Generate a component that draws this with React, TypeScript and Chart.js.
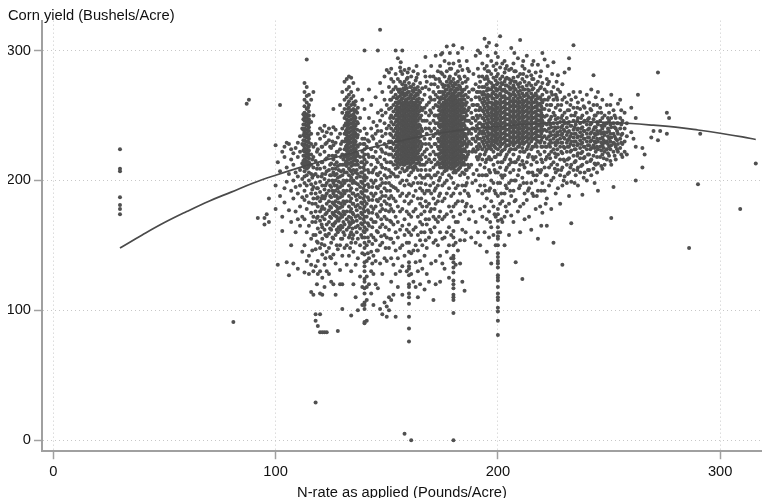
import React, { useEffect, useRef } from "react";
import { Chart, registerables } from "chart.js";

Chart.register(...registerables);

type Column = [number, number[]];

const xTicks = [0, 100, 200, 300];
const yTicks = [0, 100, 200, 300];
const yTitle = "Corn yield (Bushels/Acre)";
const xTitle = "N-rate as applied (Pounds/Acre)";

const fitRates = [30, 40, 50, 60, 70, 80, 90, 100, 110, 120, 130, 140, 150, 160, 170, 180, 190, 200, 210, 220, 230, 240, 250, 260, 270, 280, 290, 300, 310, 316];
const fitYields = [148, 158, 167.5, 176, 184, 191, 198, 204, 209.5, 214.5, 219, 224, 228, 232, 235.5, 238, 240, 241.5, 243, 244, 244.8, 245, 244.6, 243.8, 242.5, 241, 238.8, 236.3, 233.5, 231.5];

const farLeft: Column[] = [
  [30, [224, 209, 207, 187, 181, 178, 174]], [81, [91]], [87, [259]], [88, [262]], [92, [171]], [95, [171, 166]], [96, [174]], [97, [186, 168]],
  [100, [227, 196, 178]], [101, [214, 135]], [102, [258, 207, 188]], [103, [222, 172, 161]], [104, [226, 218, 194, 183]], [105, [229, 210, 199, 137]],
  [106, [228, 205, 177, 127]], [107, [224, 216, 192, 168, 150]], [108, [221, 212, 200, 186, 136]], [109, [225, 206, 195, 176, 160]],
  [110, [229, 218, 203, 190, 170, 132]], [111, [234, 222, 208, 196, 180, 165]], [112, [240, 228, 213, 201, 187, 172, 145]],
];

const blobA: Column[] = [
  [113, [275, 268, 262, 257, 252, 249, 246, 243, 240, 237, 234, 231, 228, 225, 222, 219, 216, 213, 210, 207, 203, 198, 192, 185, 170, 150, 129]],
  [114, [293, 272, 265, 260, 255, 251, 248, 245, 242, 239, 236, 233, 230, 227, 224, 221, 218, 215, 212, 209, 204, 196, 188, 178, 160, 138]],
  [115, [266, 258, 253, 250, 247, 244, 241, 238, 235, 232, 229, 226, 223, 220, 217, 214, 211, 206, 200, 183, 165, 142, 128]],
  [116, [262, 245, 236, 228, 220, 212, 205, 197, 190, 175, 155, 135, 114]],
  [117, [268, 250, 226, 218, 210, 204, 195, 186, 172, 158, 130, 112]],
  [112.5, [251, 247, 243, 239, 235, 231, 227, 223, 219, 215, 211]],
  [114.6, [256, 250, 246, 242, 238, 234, 230, 226, 222, 218, 214, 210]],
];

const betweenAB: Column[] = [
  [118, [228, 215, 205, 198, 190, 182, 176, 168, 158, 147, 134, 97, 92, 29]],
  [119, [236, 224, 212, 203, 194, 187, 180, 172, 163, 152, 138, 128, 88]],
  [120, [240, 232, 220, 209, 199, 191, 184, 176, 169, 160, 148, 130, 113, 97, 83]],
  [121, [238, 226, 214, 205, 196, 188, 180, 172, 164, 155, 143, 125, 112, 83]],
  [122, [242, 234, 222, 210, 201, 193, 186, 178, 170, 162, 150, 135, 118, 83]],
  [123, [237, 229, 217, 207, 198, 190, 182, 175, 166, 157, 145, 130, 83]],
  [124, [240, 231, 219, 208, 200, 192, 184, 177, 168, 159, 148, 128]],
  [125, [236, 225, 213, 204, 195, 187, 179, 171, 162, 152, 140, 122]],
  [126, [255, 241, 227, 216, 206, 198, 190, 182, 174, 165, 155, 143, 120]],
  [127, [239, 229, 219, 209, 200, 192, 184, 176, 168, 158, 136, 112]],
  [128, [233, 222, 211, 202, 194, 186, 178, 170, 160, 147, 84]],
  [129, [258, 236, 224, 212, 203, 195, 187, 179, 171, 162, 150, 131, 120]],
  [126.6, [212, 204, 196, 188, 181, 173, 167]],
  [128.4, [208, 199, 191, 183, 175, 169, 164]],
  [130.5, [216, 208, 200, 192, 184, 176, 168, 160]],
  [136.5, [215, 208, 202, 193, 185, 177, 169, 160]],
  [138.5, [214, 206, 199, 191, 183, 175, 167, 158]],
];

const blobB: Column[] = [
  [130, [268, 252, 240, 230, 220, 212, 204, 196, 188, 180, 172, 164, 155, 142, 120, 101]],
  [131, [276, 262, 255, 248, 242, 236, 230, 224, 218, 212, 206, 198, 190, 182, 174, 166, 158, 148]],
  [132, [278, 270, 264, 258, 252, 247, 243, 239, 235, 231, 227, 223, 219, 215, 211, 206, 200, 192, 184, 176, 170, 162, 150, 135]],
  [133, [280, 272, 266, 261, 256, 252, 249, 246, 243, 240, 237, 234, 231, 228, 225, 222, 219, 216, 213, 209, 204, 196, 188, 180, 172, 168, 164, 156, 142]],
  [134, [279, 268, 263, 258, 254, 250, 247, 244, 241, 238, 235, 232, 229, 226, 223, 220, 217, 214, 211, 207, 202, 194, 186, 178, 171, 167, 160, 152, 130, 96]],
  [135, [275, 265, 260, 255, 251, 248, 245, 242, 239, 236, 233, 230, 227, 224, 221, 218, 215, 212, 208, 200, 190, 182, 174, 168, 158, 145, 120]],
  [136, [261, 254, 248, 242, 236, 230, 224, 218, 212, 206, 198, 188, 180, 172, 164, 152, 135, 110]],
  [137, [270, 256, 244, 235, 226, 219, 212, 205, 197, 189, 181, 173, 165, 155, 140, 100]],
  [138, [248, 238, 228, 218, 210, 203, 195, 187, 179, 171, 163, 150, 126]],
  [139, [262, 232, 222, 214, 206, 198, 190, 182, 174, 166, 156, 144, 118, 104]],
  [140, [300, 255, 240, 232, 228, 224, 220, 216, 212, 208, 204, 200, 196, 192, 188, 184, 180, 176, 172, 168, 164, 160, 156, 152, 148, 143, 137, 134, 130, 124, 122, 117, 113, 106, 104, 101, 91, 90]],
  [141, [236, 226, 214, 202, 192, 182, 172, 162, 150, 138, 126, 118, 108, 92]],
  [132.5, [259, 255, 250, 245, 241, 237, 233, 229, 225, 221, 217, 213]],
  [135.6, [258, 253, 249, 246, 243, 240, 237, 234, 231, 228, 225, 222, 219, 216]],
  [136.7, [252, 245, 239, 233, 227, 221, 215]],
  [131.6, [250, 244, 238, 232, 226, 220, 214]],
];

const betweenBC: Column[] = [
  [142, [270, 248, 230, 218, 206, 195, 185, 175, 165, 153, 140, 120]],
  [143, [258, 240, 224, 212, 200, 190, 180, 170, 158, 145, 130, 113]],
  [144, [245, 232, 218, 208, 198, 188, 178, 168, 156, 142, 128, 104]],
  [145, [264, 236, 222, 210, 200, 190, 180, 168, 154, 138, 120]],
  [146, [300, 252, 238, 226, 214, 204, 194, 184, 172, 160, 146, 117]],
  [147, [316, 275, 246, 230, 218, 206, 196, 186, 176, 164, 150, 136, 101]],
  [148, [268, 250, 234, 222, 210, 198, 188, 178, 166, 152, 128, 97]],
  [149, [280, 262, 244, 228, 216, 204, 194, 184, 172, 158, 140, 106]],
  [150, [285, 258, 240, 226, 214, 202, 192, 182, 170, 156, 138, 103, 95]],
  [151, [283, 272, 255, 242, 230, 220, 208, 198, 186, 176, 162, 148, 110, 100]],
];

const blobC: Column[] = [
  [152, [286, 278, 268, 262, 256, 250, 245, 240, 235, 230, 225, 220, 214, 206, 196, 188, 178, 168, 155, 140, 122, 108]],
  [153, [276, 270, 264, 258, 253, 248, 243, 238, 233, 228, 223, 218, 212, 205, 195, 186, 176, 166, 152, 135, 112]],
  [154, [300, 282, 272, 266, 260, 255, 250, 245, 240, 235, 230, 225, 220, 215, 209, 203, 194, 184, 172, 160, 146, 128, 95]],
  [155, [294, 278, 270, 264, 259, 254, 250, 246, 242, 238, 234, 230, 226, 222, 218, 214, 210, 203, 192, 180, 168, 156, 140, 118]],
  [156, [287, 276, 270, 265, 260, 256, 252, 248, 244, 240, 236, 232, 228, 224, 220, 216, 212, 206, 198, 188, 176, 162, 148, 130]],
  [157, [300, 282, 274, 268, 263, 258, 254, 250, 246, 242, 238, 234, 230, 226, 222, 218, 214, 209, 200, 190, 178, 165, 150, 134, 112]],
  [158, [285, 276, 270, 265, 260, 256, 252, 248, 244, 240, 236, 232, 228, 224, 220, 216, 212, 207, 196, 184, 170, 158, 142, 5]],
  [159, [278, 271, 266, 261, 257, 253, 249, 245, 241, 237, 233, 229, 225, 221, 217, 213, 208, 200, 188, 176, 162, 152, 130]],
  [160, [286, 275, 268, 263, 258, 254, 250, 246, 242, 238, 234, 230, 226, 222, 218, 214, 210, 204, 197, 190, 182, 174, 166, 160, 152, 145, 137, 134, 132, 127, 120, 118, 113, 110, 105, 95, 86, 76]],
  [161, [280, 272, 266, 261, 257, 253, 249, 245, 241, 237, 233, 229, 225, 221, 217, 213, 206, 196, 184, 172, 158, 144, 128, 0]],
  [162, [284, 274, 268, 263, 258, 254, 250, 246, 242, 238, 234, 230, 226, 222, 218, 214, 208, 198, 188, 176, 162, 146, 122]],
  [163, [277, 270, 265, 260, 256, 252, 248, 244, 240, 236, 232, 228, 224, 220, 216, 210, 202, 192, 178, 164, 150, 137, 118]],
  [164, [282, 272, 266, 261, 256, 251, 246, 241, 236, 231, 226, 221, 216, 208, 198, 186, 172, 158, 146, 130, 110]],
  [165, [275, 268, 260, 254, 248, 242, 236, 230, 224, 218, 212, 204, 194, 182, 168, 154, 138, 120]],
  [166, [271, 262, 254, 246, 238, 228, 220, 212, 202, 192, 180, 166, 150, 132]],
  [167, [284, 266, 256, 246, 232, 222, 212, 202, 190, 176, 160, 142, 116]],
  [168, [276, 258, 246, 236, 224, 214, 204, 192, 180, 166, 148, 128]],
  [169, [270, 260, 250, 240, 228, 216, 204, 192, 182, 170, 156, 122]],
  [170, [288, 274, 262, 252, 238, 226, 214, 202, 190, 178, 160, 136]],
  [171, [280, 268, 256, 246, 234, 222, 210, 198, 186, 172, 152, 108]],
  [155.5, [268, 261, 256, 252, 248, 244, 240, 236, 232, 228, 224, 220, 216]],
  [156.5, [267, 262, 258, 254, 250, 246, 242, 238, 234, 230, 226, 222, 218, 214]],
  [157.5, [271, 266, 260, 256, 252, 248, 244, 240, 236, 232, 228, 224, 220, 216, 212]],
  [158.5, [273, 267, 262, 258, 254, 250, 246, 242, 238, 234, 230, 226, 222, 218, 214]],
  [159.5, [268, 263, 259, 255, 251, 247, 243, 239, 235, 231, 227, 223, 219, 215, 210]],
  [160.5, [272, 265, 260, 256, 252, 248, 244, 240, 236, 232, 228, 224, 220, 216, 212]],
  [161.5, [269, 263, 259, 255, 251, 247, 243, 239, 235, 231, 227, 223, 219, 215, 210]],
  [162.5, [271, 265, 260, 256, 252, 248, 244, 240, 236, 232, 228, 224, 220, 216, 211]],
  [163.5, [267, 262, 258, 254, 250, 246, 242, 238, 234, 230, 226, 222, 218, 213]],
  [164.5, [269, 263, 258, 253, 248, 243, 238, 233, 228, 223, 218, 214]],
  [154.5, [263, 257, 252, 247, 242, 237, 232, 227, 222, 217, 212]],
];

const blobD: Column[] = [
  [172, [296, 278, 266, 258, 250, 244, 236, 228, 220, 212, 204, 194, 182, 170, 154, 138, 120]],
  [173, [284, 272, 264, 257, 250, 244, 238, 232, 226, 220, 214, 206, 196, 184, 168, 150]],
  [174, [288, 276, 268, 262, 256, 251, 246, 241, 236, 231, 226, 221, 216, 210, 202, 190, 176, 160, 142, 122]],
  [175, [298, 282, 274, 268, 263, 258, 254, 250, 246, 242, 238, 234, 230, 226, 222, 218, 214, 210, 205, 196, 184, 170, 155, 136]],
  [176, [292, 280, 273, 268, 263, 259, 255, 251, 247, 243, 239, 235, 231, 227, 223, 219, 215, 211, 207, 198, 186, 172, 156, 132]],
  [177, [303, 284, 276, 270, 265, 260, 256, 252, 248, 244, 240, 236, 232, 228, 224, 220, 216, 212, 208, 200, 190, 174, 160, 145]],
  [178, [290, 278, 272, 267, 262, 258, 254, 250, 246, 242, 238, 234, 230, 226, 222, 218, 214, 210, 204, 194, 180, 164, 150, 125]],
  [179, [286, 276, 270, 265, 261, 257, 253, 249, 245, 241, 237, 233, 229, 225, 221, 217, 213, 209, 202, 188, 176, 158, 140]],
  [180, [304, 290, 278, 272, 267, 262, 258, 254, 250, 246, 242, 238, 234, 230, 226, 222, 218, 214, 210, 206, 198, 190, 180, 172, 161, 156, 150, 142, 140, 137, 133, 129, 123, 120, 117, 112, 110, 108, 98, 0]],
  [181, [282, 274, 268, 263, 259, 255, 251, 247, 243, 239, 235, 231, 227, 223, 219, 215, 211, 206, 194, 182, 168, 152, 135]],
  [182, [298, 284, 276, 270, 265, 260, 256, 252, 248, 244, 240, 236, 232, 228, 224, 220, 216, 212, 208, 196, 184, 168, 146]],
  [183, [288, 278, 272, 267, 262, 258, 254, 250, 246, 242, 238, 234, 230, 226, 222, 218, 214, 210, 204, 190, 174, 154, 136]],
  [184, [302, 285, 275, 268, 262, 257, 252, 247, 242, 237, 232, 227, 222, 217, 212, 206, 196, 184, 162, 122]],
  [185, [280, 270, 262, 255, 248, 242, 236, 230, 224, 218, 212, 205, 192, 176, 154, 115]],
  [186, [292, 272, 260, 250, 240, 232, 226, 218, 208, 198, 182]],
  [187, [284, 268, 256, 246, 238, 230, 222, 210, 188, 170]],
  [188, [262, 252, 244, 236, 228, 212, 180, 156]],
  [189, [282, 270, 258, 248, 240, 232, 224, 205, 176]],
  [190, [296, 274, 264, 254, 246, 238, 230, 222, 200, 168, 152]],
  [191, [300, 286, 268, 258, 248, 240, 232, 224, 216, 192, 160]],
  [175.5, [272, 266, 260, 256, 252, 248, 244, 240, 236, 232, 228, 224, 220, 216, 212]],
  [176.5, [270, 265, 261, 257, 253, 249, 245, 241, 237, 233, 229, 225, 221, 217, 213, 209]],
  [177.5, [273, 267, 262, 258, 254, 250, 246, 242, 238, 234, 230, 226, 222, 218, 214, 210]],
  [178.5, [275, 269, 264, 260, 256, 252, 248, 244, 240, 236, 232, 228, 224, 220, 216, 212]],
  [179.5, [273, 267, 263, 259, 255, 251, 247, 243, 239, 235, 231, 227, 223, 219, 215, 211]],
  [180.5, [275, 269, 265, 260, 256, 252, 248, 244, 240, 236, 232, 228, 224, 220, 216, 212, 208]],
  [181.5, [271, 265, 261, 257, 253, 249, 245, 241, 237, 233, 229, 225, 221, 217, 213]],
  [182.5, [273, 267, 262, 258, 254, 250, 246, 242, 238, 234, 230, 226, 222, 218, 214, 209]],
  [183.5, [270, 265, 260, 256, 252, 248, 244, 240, 236, 232, 228, 224, 220, 216, 212]],
  [174.5, [264, 258, 253, 248, 243, 238, 233, 228, 223, 218, 213]],
  [184.5, [265, 259, 254, 249, 244, 239, 234, 229, 224, 219, 214]],
];

const blobE: Column[] = [
  [192, [298, 276, 268, 262, 256, 250, 244, 238, 232, 226, 220, 212, 196, 178, 150]],
  [193, [290, 280, 272, 266, 260, 254, 248, 242, 236, 230, 224, 216, 204, 190, 172]],
  [194, [309, 286, 278, 272, 266, 261, 256, 251, 246, 241, 236, 231, 226, 220, 210, 196, 180, 160]],
  [195, [303, 288, 280, 274, 269, 264, 259, 254, 249, 244, 239, 234, 229, 224, 216, 204, 186, 170, 145]],
  [196, [306, 284, 276, 270, 265, 260, 255, 250, 245, 240, 235, 230, 225, 218, 208, 192, 176, 156]],
  [197, [292, 282, 275, 270, 265, 260, 256, 252, 248, 244, 240, 236, 232, 228, 224, 216, 200, 184, 164, 136]],
  [198, [288, 279, 273, 268, 263, 259, 255, 251, 247, 243, 239, 235, 231, 227, 222, 212, 198, 180, 158]],
  [199, [298, 285, 277, 271, 266, 261, 257, 253, 249, 245, 241, 237, 233, 229, 225, 218, 206, 190, 172, 150]],
  [200, [295, 282, 275, 270, 265, 260, 256, 252, 248, 244, 240, 236, 232, 228, 224, 220, 214, 206, 198, 188, 178, 174, 169, 164, 160, 157, 155, 150, 144, 141, 138, 136, 133, 127, 125, 123, 118, 113, 110, 108, 102, 99, 92, 81]],
  [201, [311, 287, 278, 272, 267, 262, 258, 254, 250, 246, 242, 238, 234, 230, 226, 220, 210, 198, 182, 160]],
  [202, [290, 280, 274, 269, 264, 260, 256, 252, 248, 244, 240, 236, 232, 228, 223, 214, 202, 184, 168]],
  [203, [292, 283, 276, 270, 265, 261, 257, 253, 249, 245, 241, 237, 233, 229, 224, 216, 204, 190, 172, 150]],
  [204, [288, 279, 273, 268, 263, 259, 255, 251, 247, 243, 239, 235, 231, 227, 220, 210, 194, 176]],
  [205, [285, 278, 272, 267, 263, 259, 255, 251, 247, 243, 239, 235, 231, 227, 222, 212, 198, 182, 158]],
  [206, [302, 286, 277, 271, 266, 261, 257, 253, 249, 245, 241, 237, 233, 229, 224, 214, 200, 188, 173]],
  [207, [290, 279, 273, 268, 263, 259, 255, 251, 247, 243, 239, 235, 231, 227, 220, 208, 192, 168]],
  [208, [284, 276, 270, 265, 261, 257, 253, 249, 245, 241, 237, 233, 229, 224, 214, 200, 185, 137]],
  [209, [294, 280, 274, 268, 263, 259, 255, 251, 247, 243, 239, 235, 231, 226, 216, 204, 176]],
  [210, [308, 282, 275, 269, 264, 260, 256, 252, 248, 244, 240, 236, 232, 228, 222, 212, 196, 180, 160]],
  [211, [288, 278, 272, 267, 262, 258, 254, 250, 246, 242, 238, 234, 230, 225, 215, 202, 124]],
  [212, [286, 276, 270, 265, 261, 257, 253, 249, 245, 241, 237, 233, 229, 222, 210, 190, 170]],
  [213, [296, 280, 273, 267, 262, 258, 254, 250, 246, 242, 238, 234, 230, 224, 214, 198, 185]],
  [214, [284, 275, 269, 264, 260, 256, 252, 248, 244, 240, 236, 232, 228, 220, 206, 194, 172]],
  [215, [281, 273, 267, 262, 258, 254, 250, 246, 242, 238, 234, 230, 224, 212, 198, 162]],
  [216, [292, 278, 271, 265, 260, 256, 252, 248, 244, 240, 236, 232, 226, 216, 204, 188]],
  [217, [283, 274, 267, 262, 257, 253, 249, 245, 241, 237, 233, 228, 218, 200, 178]],
  [218, [289, 276, 269, 263, 258, 254, 250, 246, 242, 238, 234, 230, 222, 208, 192, 155]],
  [219, [280, 271, 264, 259, 254, 250, 246, 242, 238, 234, 229, 220, 206, 180]],
  [220, [298, 275, 266, 260, 255, 250, 246, 242, 238, 233, 226, 214, 198, 175]],
  [221, [293, 270, 262, 255, 249, 244, 239, 234, 229, 222, 210, 192]],
  [222, [278, 268, 258, 250, 243, 238, 232, 226, 218, 204, 186, 165]],
  [193.5, [268, 263, 258, 253, 248, 243, 238, 233, 228]],
  [195.5, [271, 266, 262, 257, 252, 247, 242, 237, 232, 227]],
  [197.5, [272, 267, 263, 258, 254, 250, 246, 242, 238, 234, 230]],
  [199.5, [274, 269, 264, 259, 255, 251, 247, 243, 239, 235, 231]],
  [201.5, [275, 270, 265, 260, 256, 252, 248, 244, 240, 236, 232, 228]],
  [203.5, [273, 268, 263, 259, 255, 251, 247, 243, 239, 235, 231]],
  [205.5, [275, 270, 265, 261, 257, 253, 249, 245, 241, 237, 233, 229]],
  [207.5, [271, 266, 261, 257, 253, 249, 245, 241, 237, 233, 229]],
  [209.5, [272, 266, 261, 257, 253, 249, 245, 241, 237, 233, 229]],
  [211.5, [270, 265, 260, 256, 252, 248, 244, 240, 236, 232, 228]],
  [213.5, [270, 265, 260, 256, 252, 248, 244, 240, 236, 232]],
  [215.5, [270, 264, 260, 256, 252, 248, 244, 240, 236, 232]],
  [217.5, [265, 260, 256, 251, 247, 243, 239, 235, 231]],
  [219.5, [262, 257, 252, 248, 244, 240, 236, 231]],
];

const rightTail: Column[] = [
  [223, [276, 264, 254, 246, 240, 234, 228, 220, 210, 196]],
  [224, [268, 258, 249, 241, 235, 229, 222, 212, 200, 178]],
  [225, [291, 272, 262, 252, 244, 238, 232, 224, 214, 202, 152]],
  [226, [266, 256, 247, 240, 234, 227, 218, 206, 190]],
  [227, [281, 270, 258, 248, 241, 235, 229, 220, 208, 194]],
  [228, [268, 254, 245, 238, 232, 226, 216, 204, 182]],
  [229, [274, 262, 250, 242, 236, 229, 221, 210, 196, 135]],
  [230, [283, 264, 252, 244, 238, 232, 225, 215, 203]],
  [231, [260, 248, 241, 235, 229, 222, 212, 198]],
  [232, [294, 286, 266, 254, 245, 238, 232, 226, 217, 206, 188]],
  [233, [262, 250, 242, 236, 230, 223, 212, 199, 167]],
  [234, [304, 268, 256, 246, 239, 233, 227, 219, 208]],
  [235, [264, 252, 243, 236, 230, 224, 215, 204]],
  [236, [260, 248, 240, 234, 228, 221, 210, 196]],
  [237, [268, 255, 244, 237, 231, 225, 217, 206]],
  [238, [262, 250, 241, 235, 229, 222, 212, 189]],
  [239, [256, 246, 238, 232, 226, 218, 206]],
  [240, [266, 252, 243, 236, 230, 224, 214, 200]],
  [241, [260, 248, 240, 233, 227, 220, 208]],
  [242, [270, 254, 244, 237, 231, 225, 216, 204]],
  [243, [281, 258, 247, 239, 233, 227, 219, 209]],
  [244, [264, 250, 241, 235, 229, 222, 212]],
  [245, [268, 252, 243, 236, 230, 224, 213, 192]],
  [246, [256, 246, 238, 232, 226, 218]],
  [247, [262, 248, 240, 233, 227, 220, 209]],
  [248, [250, 242, 235, 229, 222, 212]],
  [249, [258, 244, 237, 230, 224, 216]],
  [250, [252, 246, 238, 232, 226, 219]],
  [251, [266, 248, 241, 233, 227, 212, 171]],
  [252, [254, 244, 236, 229, 222, 195]],
  [253, [248, 240, 232, 226, 216]],
  [254, [259, 244, 236, 228, 222]],
  [255, [262, 248, 240, 232, 225]],
  [256, [246, 236, 228, 218]],
  [257, [252, 240, 230, 222]],
  [258, [244, 234, 220]],
  [260, [256, 237]],
  [261, [232]],
  [262, [248, 226, 200]],
  [263, [266]],
  [265, [225, 210]],
  [266, [220]],
  [269, [233]],
  [270, [238]],
  [272, [283, 231]],
  [273, [238]],
  [276, [252, 236]],
  [277, [248]],
  [286, [148]],
  [290, [197]],
  [291, [236]],
  [309, [178]],
  [316, [213]],
];

const tailInfill: Column[] = [
  [223.5, [258, 247, 243, 237, 231, 226, 217]], [225.6, [250, 241, 235, 229, 221, 209]], [226.7, [262, 244, 237, 231, 224, 212]],
  [228.5, [258, 248, 241, 235, 229, 222, 208]], [229.6, [246, 239, 233, 226, 216, 200]], [231.4, [254, 244, 237, 231, 226, 216, 205]],
  [232.6, [258, 242, 234, 228, 222, 210]], [234.5, [250, 241, 236, 230, 224, 214, 198]], [235.7, [256, 246, 239, 233, 227, 219, 208]],
  [237.4, [248, 240, 234, 228, 221, 211]], [238.6, [257, 245, 238, 232, 226, 217, 202]], [240.5, [247, 239, 233, 227, 220, 208]],
  [241.6, [255, 243, 236, 230, 224, 215]], [243.5, [250, 241, 236, 230, 225, 213, 198]], [244.6, [258, 245, 238, 232, 226, 218, 206]],
  [246.5, [252, 242, 236, 229, 223, 211]], [247.6, [243, 237, 231, 225, 217]], [249.5, [248, 240, 234, 228, 221]],
  [250.6, [258, 243, 236, 230, 224, 215]], [252.5, [250, 241, 234, 228, 219]], [253.6, [244, 238, 231, 224]], [255.5, [254, 243, 235, 229, 220]],
];

const lowerInfill: Column[] = [
  [116.5, [216, 202, 193, 182, 168, 146]], [118.6, [222, 209, 194, 186, 171, 153, 120]], [120.7, [226, 214, 203, 186, 178, 166, 151]],
  [122.4, [228, 216, 205, 196, 188, 174, 158, 140]], [124.5, [226, 212, 204, 196, 188, 180, 172, 163, 141]], [125.6, [230, 219, 209, 200, 192, 183, 175, 166, 156]],
  [127.5, [222, 214, 205, 196, 188, 180, 172, 162, 150]], [129.4, [228, 218, 207, 198, 190, 182, 174, 165, 155]], [133.5, [208, 200, 192, 184, 176, 166, 158, 148]],
  [134.6, [205, 198, 190, 182, 175, 169, 163, 155]], [139.5, [228, 218, 210, 202, 194, 186, 178, 170, 161]], [141.5, [231, 220, 208, 197, 187, 177, 167, 156, 144]],
  [143.5, [234, 218, 206, 195, 185, 175, 164, 151, 136]], [145.5, [242, 228, 216, 205, 195, 185, 174, 161, 146]], [147.5, [254, 238, 224, 212, 201, 191, 181, 170, 157]],
  [149.5, [252, 236, 221, 209, 198, 188, 177, 164, 148]], [151.5, [262, 248, 236, 225, 214, 203, 192, 181, 169, 155]],
  [165.5, [256, 250, 240, 234, 226, 216, 208, 198, 186, 174, 160]], [167.5, [272, 252, 240, 228, 218, 208, 197, 184, 170, 154]],
  [169.5, [280, 264, 254, 244, 232, 220, 208, 196, 176, 162]], [171.5, [274, 262, 250, 240, 228, 216, 204, 192, 178, 164]],
  [173.5, [278, 268, 260, 254, 248, 242, 236, 230, 224, 218, 212, 200, 188, 172]], [185.5, [276, 266, 258, 252, 246, 240, 234, 228, 222, 216, 208, 196, 180, 160]],
  [186.5, [264, 254, 246, 236, 228, 220, 212, 202, 190]], [188.5, [270, 258, 248, 240, 232, 222, 198]], [190.5, [268, 258, 250, 242, 234, 226, 218, 208]],
  [191.5, [280, 272, 264, 254, 244, 236, 228, 218, 204]],
  [194.5, [222, 214, 204, 192]], [196.5, [226, 216, 206, 194, 168]], [198.5, [226, 218, 208, 192, 174]], [201.5, [222, 214, 204, 190, 170]],
  [203.5, [226, 218, 208, 196, 180]], [205.5, [224, 216, 206, 192]], [207.5, [224, 214, 200, 184]], [209.5, [226, 218, 208, 194]],
  [211.5, [222, 212, 198, 182]], [213.5, [226, 218, 206, 192]], [215.5, [226, 218, 206, 190]], [217.5, [226, 214, 204, 188]],
  [219.5, [226, 216, 208, 192, 165]], [221.5, [226, 216, 204, 182]],
];

const upperInfill: Column[] = [
  [156.3, [291, 284]], [159.4, [283, 279]], [163.4, [288, 279]], [167.4, [295, 280]], [174.4, [297, 283]], [178.4, [298, 286, 280]],
  [182.5, [292, 280]], [186.4, [286, 278]], [195.4, [296, 284, 278]], [199.4, [304, 290, 280]], [203.4, [286, 278]], [207.4, [298, 284, 276]],
  [211.4, [292, 282]], [215.4, [289, 278]], [219.4, [284, 272]], [222.4, [288, 274, 262]], [224.4, [282, 266]], [226.4, [276, 264]],
];

const columnGroups = [farLeft, blobA, betweenAB, blobB, betweenBC, blobC, blobD, blobE, rightTail, tailInfill, lowerInfill, upperInfill];

export default function App() {
  const ref = useRef<HTMLCanvasElement>(null);

  useEffect(() => {
    document.body.style.margin = "0";
    const points = columnGroups.flatMap((group) =>
      group.flatMap(([x, ys]) => ys.map((y) => ({ x, y })))
    );
    const fit = fitRates.map((x, i) => ({ x, y: fitYields[i] }));
    const font = { family: "'Liberation Sans', Arial, sans-serif", size: 14.7 };
    const chart = new Chart(ref.current!, {
      type: "scatter",
      data: {
        datasets: [
          {
            type: "line",
            label: "Fit",
            data: fit,
            borderColor: "#4a4a4a",
            borderWidth: 1.7,
            pointRadius: 0,
            tension: 0.4,
            fill: false,
          },
          {
            label: "Fields",
            data: points,
            backgroundColor: "#505050",
            borderWidth: 0,
            pointRadius: 2,
            showLine: false,
          },
        ],
      },
      options: {
        animation: false,
        responsive: false,
        layout: { autoPadding: false, padding: { left: 8, right: 0, top: 7, bottom: -4 } },
        plugins: {
          legend: { display: false },
          tooltip: { enabled: false },
          title: {
            display: true,
            text: yTitle,
            align: "start",
            color: "#111",
            font: { ...font, weight: "normal" },
            padding: { top: 0, bottom: -4 },
          },
        },
        scales: {
          x: {
            type: "linear",
            min: -5.08,
            max: 318.8,
            afterBuildTicks: (s: any) => { s.ticks = xTicks.map((value) => ({ value })); },
            afterFit: (s: any) => { s.paddingRight = 0; s.paddingLeft = 0; },
            grid: { color: "#c8c8c8", tickColor: "#a0a0a0", tickLength: 8, lineWidth: 1, tickWidth: 1.5 },
            border: { color: "#a0a0a0", width: 2, dash: [1, 3] },
            ticks: { color: "#111", font, padding: 4, maxRotation: 0 },
            title: { display: true, text: xTitle, color: "#111", font, padding: { top: -0.5, bottom: 0 } },
          },
          y: {
            type: "linear",
            min: -8.5,
            max: 323,
            afterBuildTicks: (s: any) => { s.ticks = yTicks.map((value) => ({ value })); },
            afterFit: (s: any) => { s.width = 34; },
            grid: { color: "#c8c8c8", tickColor: "#a0a0a0", tickLength: 8, lineWidth: 1, tickWidth: 1.5 },
            border: { color: "#a0a0a0", width: 2, dash: [1, 3] },
            ticks: { color: "#111", font, padding: 3 },
          },
        },
      } as any,
    } as any);
    return () => chart.destroy();
  }, []);

  return <canvas ref={ref} width={762} height={498} style={{ display: "block" }} />;
}
